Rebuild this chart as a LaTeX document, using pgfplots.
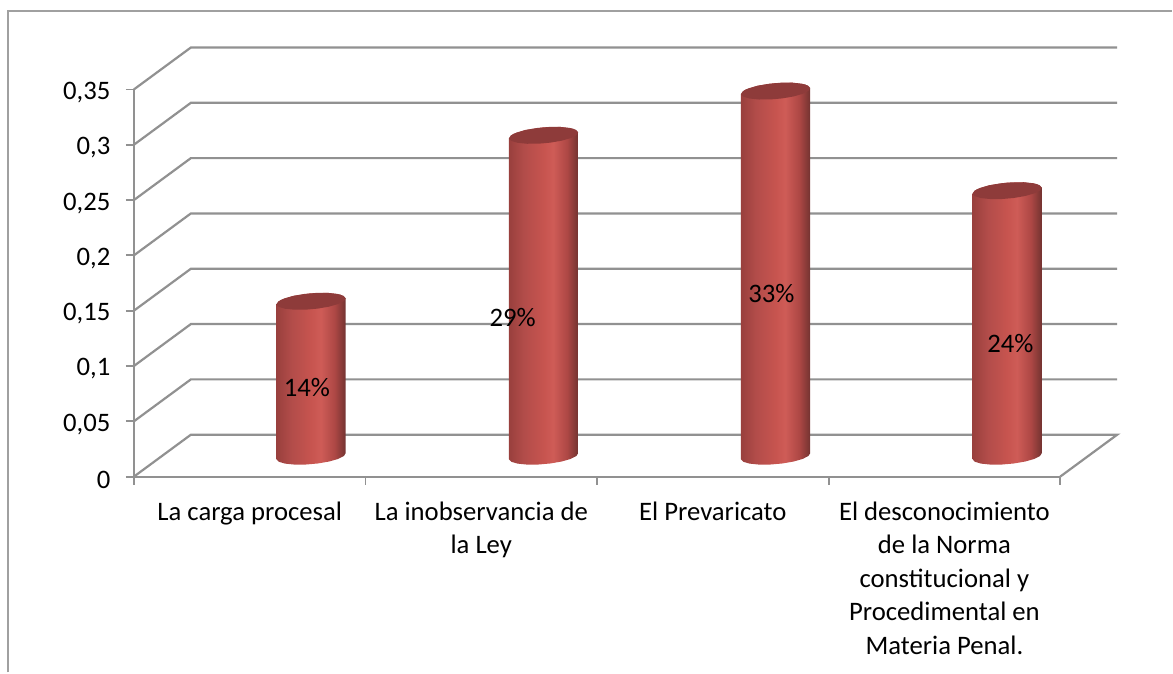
\documentclass[border=0pt]{standalone}
\usepackage{fontspec}
\setmainfont{Carlito}
\usepackage{pgfplots}
\usepackage{pgfplotstable}
\pgfplotsset{compat=1.18}

\definecolor{gridgray}{HTML}{919191}
\definecolor{framegray}{HTML}{A0A0A0}
\definecolor{captop}{HTML}{8E3B3A}

% Left-to-right shade of the cylinder wall
\pgfdeclarehorizontalshading{cylwall}{100bp}{
  rgb(0bp)=(0.60,0.25,0.24);
  rgb(25bp)=(0.60,0.25,0.24);
  rgb(36bp)=(0.70,0.30,0.29);
  rgb(50bp)=(0.78,0.33,0.31);
  rgb(57bp)=(0.81,0.36,0.34);
  rgb(67bp)=(0.68,0.28,0.27);
  rgb(75bp)=(0.45,0.20,0.19);
  rgb(100bp)=(0.45,0.20,0.19)
}

% Outline of a cylinder wall: lower rim (h=0), then upper rim (h=1)
\pgfplotstableread{
t h
180 0
200 0
220 0
240 0
260 0
280 0
300 0
320 0
340 0
360 0
0 1
30 1
60 1
90 1
120 1
150 1
180 1
}\walloutline

% Outline of the cap
\pgfplotstableread{
t h
0 1
20 1
40 1
60 1
80 1
100 1
120 1
140 1
160 1
180 1
200 1
220 1
240 1
260 1
280 1
300 1
320 1
340 1
360 1
}\capoutline

% Ellipse in data units (semi-axes and tilt given in picture points)
\newcommand{\rimx}[1]{(34.8*cos(#1)*cos(5)-8*sin(#1)*sin(5))/231.75}
\newcommand{\rimy}[1]{(34.8*cos(#1)*sin(5)+8*sin(#1)*cos(5))/1107.14}
\def\cylbase{0.0185}

\newcommand{\cylinder}[2]{%
  \addplot[draw=none, no markers, shade, shading=cylwall]
    table[x expr={#1+\rimx{\thisrow{t}}},
          y expr={\cylbase+\thisrow{h}*#2+\rimy{\thisrow{t}}}] {\walloutline} -- cycle;
  \addplot[draw=none, no markers, fill=captop]
    table[x expr={#1+\rimx{\thisrow{t}}},
          y expr={\cylbase+\thisrow{h}*#2+\rimy{\thisrow{t}}}] {\capoutline} -- cycle;
}

\begin{document}
\begin{tikzpicture}
\begin{axis}[
  at={(0pt,0pt)}, anchor=south west,
  scale only axis, width=927pt, height=387.5pt,
  xmin=0, xmax=4, ymin=0, ymax=0.35,
  clip=false,
  axis x line=bottom, axis y line=left,
  axis line style={-, draw=gridgray, line width=2.2pt},
  tick align=outside,
  ytick={0,0.05,0.1,0.15,0.2,0.25,0.3,0.35},
  xtick={0.5,1.5,2.5,3.5},
  minor xtick={0,1,2,3,4},
  xticklabels={La carga procesal,
    La inobservancia de\\la Ley,
    El Prevaricato,
    El desconocimiento\\de la Norma\\constitucional y\\Procedimental en\\Materia Penal.},
  major x tick style={draw=none},
  minor x tick style={draw=gridgray, line width=1.8pt},
  minor tick length=8pt,
  y tick style={draw=gridgray, line width=1.8pt},
  major tick length=8pt,
  xticklabel style={align=center, anchor=north, yshift=-13.5pt,
    font=\fontsize{26.7}{33.5}\selectfont},
  yticklabel style={font=\fontsize{26.7}{30}\selectfont, xshift=-12pt, yshift=-3pt},
  /pgf/number format/.cd, fixed, precision=2, use comma, assume math mode=true,
]
% Side wall, back wall and floor
\addplot[draw=gridgray, line width=2.2pt, no markers, unbounded coords=jump] table {
x y
0 0.0000
0.246 0.0379
4.246 0.0379
4 0
nan nan
0 0.05
0.246 0.0879
4.246 0.0879
nan nan
0 0.10
0.246 0.1379
4.246 0.1379
nan nan
0 0.15
0.246 0.1879
4.246 0.1879
nan nan
0 0.20
0.246 0.2379
4.246 0.2379
nan nan
0 0.25
0.246 0.2879
4.246 0.2879
nan nan
0 0.30
0.246 0.3379
4.246 0.3379
nan nan
0 0.35
0.246 0.3879
4.246 0.3879
};
\cylinder{0.765}{0.14}
\cylinder{1.769}{0.29}
\cylinder{2.771}{0.33}
\cylinder{3.771}{0.24}
\node[font=\fontsize{26.7}{30}\selectfont] at (axis cs:0.747,0.0808) {14\%};
\node[font=\fontsize{26.7}{30}\selectfont] at (axis cs:1.636,0.1441) {29\%};
\node[font=\fontsize{26.7}{30}\selectfont] at (axis cs:2.753,0.1657) {33\%};
\node[font=\fontsize{26.7}{30}\selectfont] at (axis cs:3.785,0.1206) {24\%};
\end{axis}
% Chart border
\draw[framegray, line width=1.8pt] (-126pt,-196pt) -- (-126pt,466pt) -- (1039pt,466pt);
\useasboundingbox (-134pt,-196pt) rectangle (1039pt,477pt);
\end{tikzpicture}
\end{document}
